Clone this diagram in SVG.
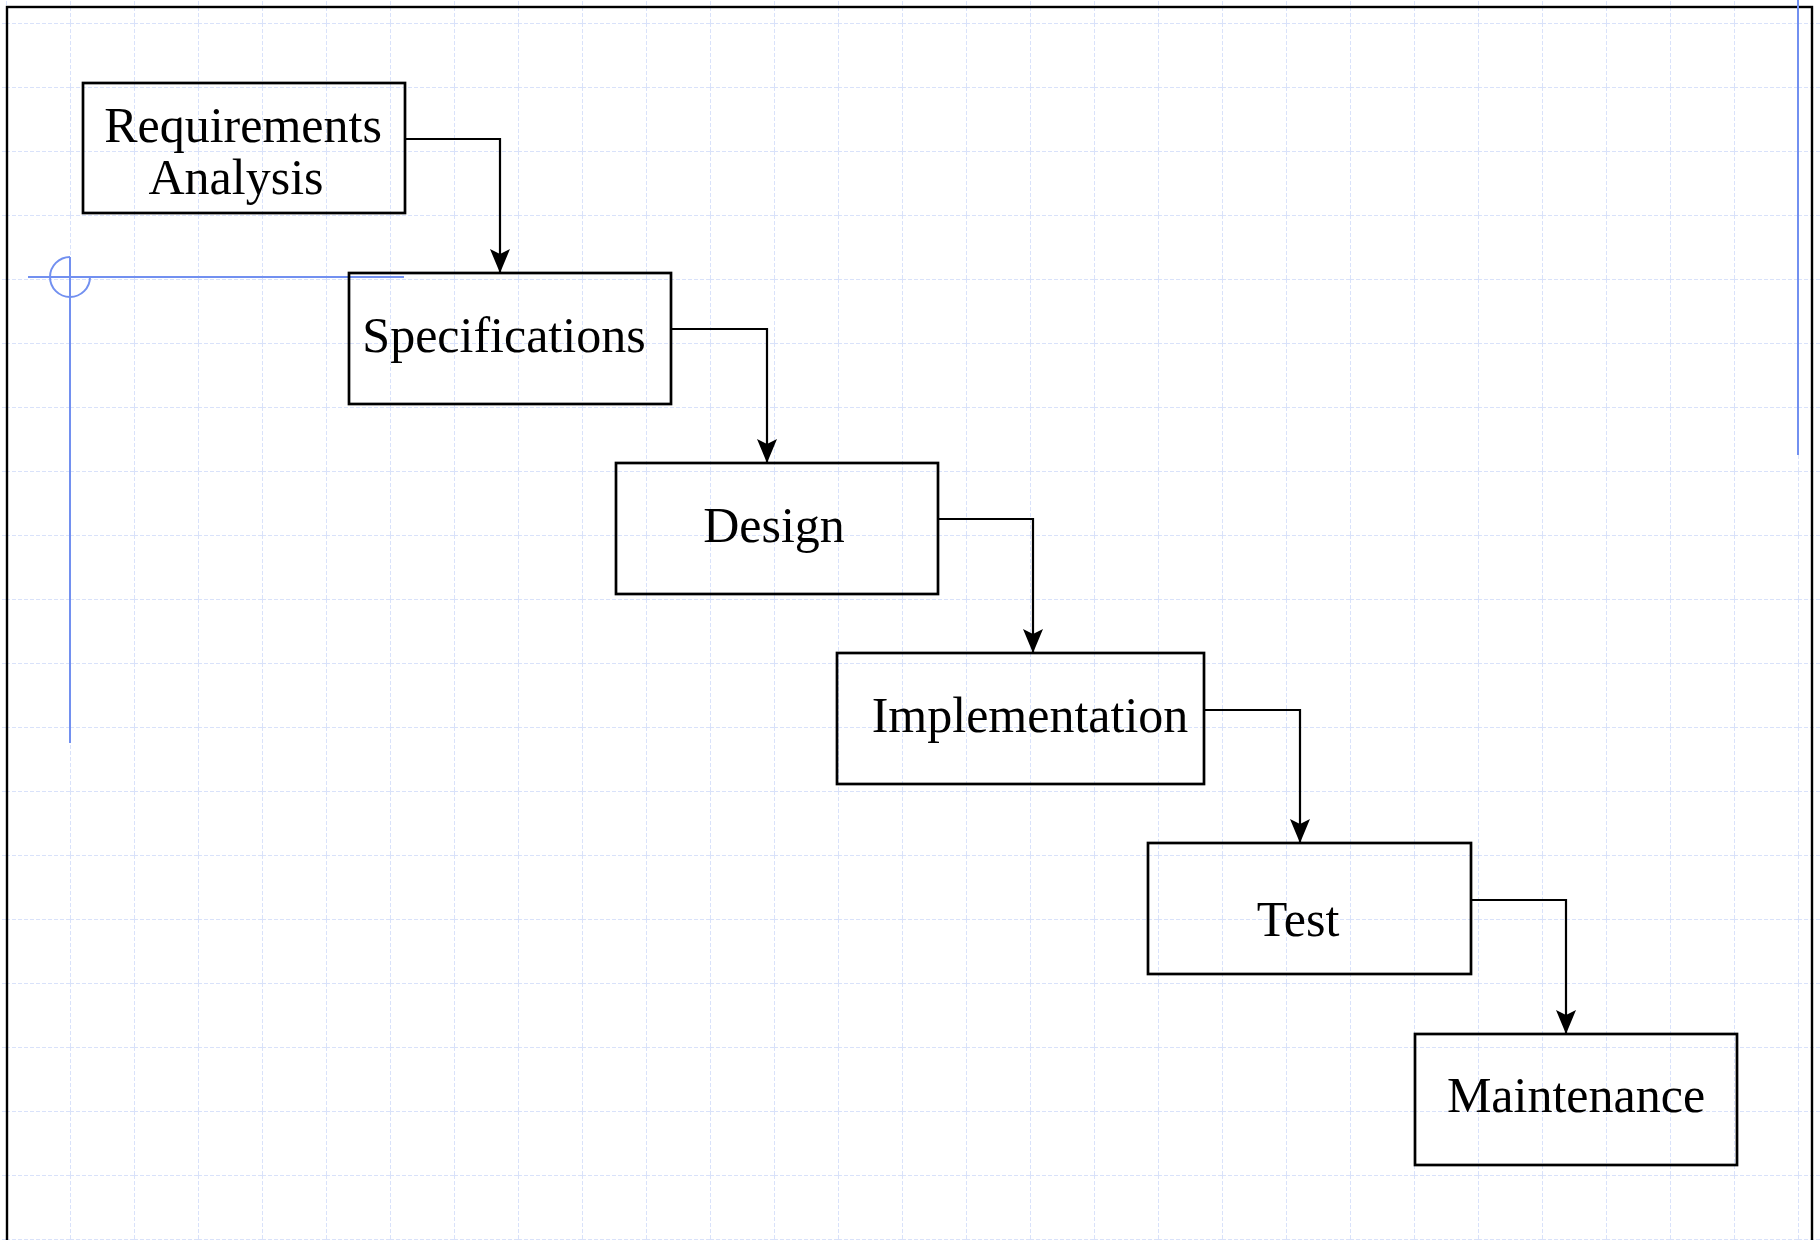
<svg xmlns="http://www.w3.org/2000/svg" width="1820" height="1240" viewBox="0 0 1820 1240">
  <defs>
    <pattern id="grid" x="6" y="23" width="64" height="64" patternUnits="userSpaceOnUse">
      <path d="M0,0.5 H64 M0.5,0 V64" fill="none" stroke="#d9e2fa" stroke-width="1" stroke-dasharray="4 2"/>
    </pattern>
    <marker id="arrow" viewBox="0 0 24 20" refX="24" refY="10" markerWidth="24" markerHeight="20" markerUnits="userSpaceOnUse" orient="auto">
      <path d="M0,0 L5,10 L0,20 L24,10 Z" fill="#000"/>
    </marker>
  </defs>
  <style>
    .box { fill: none; stroke: #000; stroke-width: 2.7; }
    .label { font-family: "Liberation Serif", "Times New Roman", serif; font-size: 50px; fill: #000; text-anchor: middle; }
    .link { fill: none; stroke: #000; stroke-width: 2.2; }
    .guide { fill: none; stroke: #7290f0; stroke-width: 2; }
  </style>

  <!-- sheet background with dashed grid -->
  <rect x="0" y="0" width="1820" height="1240" fill="#fff"/>
  <rect x="0" y="0" width="1820" height="1240" fill="url(#grid)"/>

  <!-- page frame -->
  <rect x="7" y="7" width="1805" height="1260" fill="none" stroke="#000" stroke-width="2.4"/>

  <!-- ruler guides -->
  <g id="guides">
    <path class="guide" d="M28,277 H404"/>
    <path class="guide" d="M70,257 V743"/>
    <path class="guide" d="M70,257 A20,20 0 1 0 90,277"/>
    <path class="guide" d="M1798,0 V455"/>
  </g>

  <!-- connectors -->
  <g id="connectors">
    <path class="link" d="M405,139 H500 V273" marker-end="url(#arrow)"/>
    <path class="link" d="M671,329 H767 V463" marker-end="url(#arrow)"/>
    <path class="link" d="M938,519 H1033 V653" marker-end="url(#arrow)"/>
    <path class="link" d="M1204,710 H1300 V843" marker-end="url(#arrow)"/>
    <path class="link" d="M1471,900 H1566 V1034" marker-end="url(#arrow)"/>
  </g>

  <g id="requirements">
    <rect class="box" x="83" y="83" width="322" height="130"/>
    <text class="label" x="243" y="142">Requirements</text>
    <text class="label" x="236" y="194">Analysis</text>
  </g>

  <g id="specifications">
    <rect class="box" x="349" y="273" width="322" height="131"/>
    <text class="label" x="504" y="352">Specifications</text>
  </g>

  <g id="design">
    <rect class="box" x="616" y="463" width="322" height="131"/>
    <text class="label" x="774" y="542">Design</text>
  </g>

  <g id="implementation">
    <rect class="box" x="837" y="653" width="367" height="131"/>
    <text class="label" x="1030" y="732">Implementation</text>
  </g>

  <g id="test">
    <rect class="box" x="1148" y="843" width="323" height="131"/>
    <text class="label" x="1298" y="936">Test</text>
  </g>

  <g id="maintenance">
    <rect class="box" x="1415" y="1034" width="322" height="131"/>
    <text class="label" x="1576" y="1112">Maintenance</text>
  </g>
</svg>
